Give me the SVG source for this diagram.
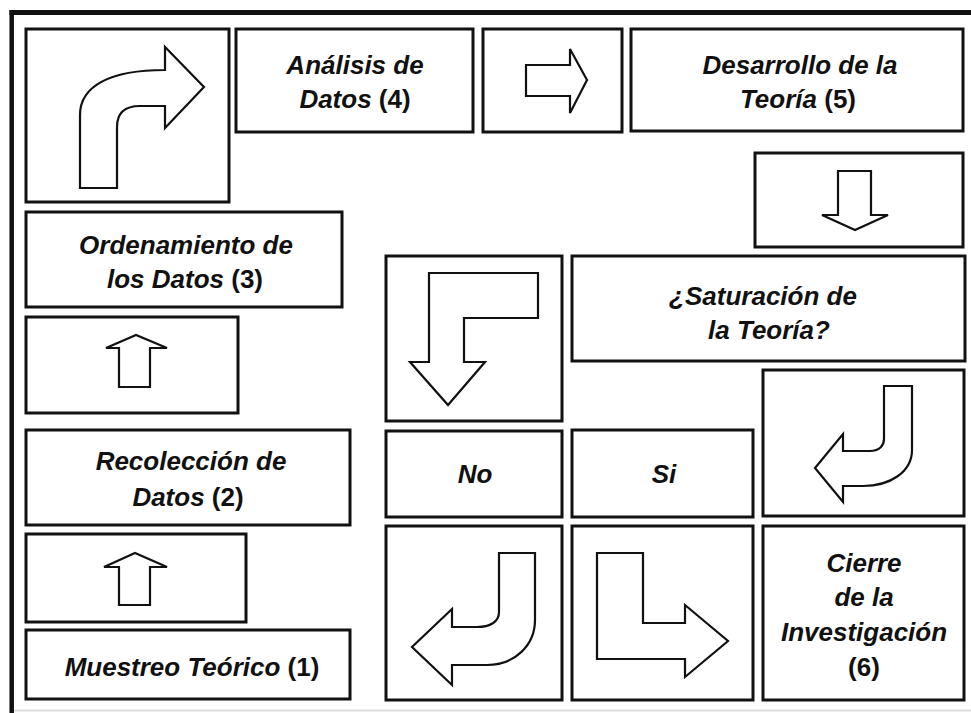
<svg xmlns="http://www.w3.org/2000/svg" width="971" height="713" viewBox="0 0 971 713">
<style>
.box{fill:#fff;stroke:#111;stroke-width:3}
.arr{fill:#fff;stroke:#111;stroke-width:2.2;stroke-linejoin:miter}
.t{font-family:"Liberation Sans",Arial,sans-serif;font-size:26px;font-weight:bold;font-style:italic;fill:#111;text-anchor:middle}
.n{font-style:normal}
</style>
<rect x="0" y="0" width="971" height="713" fill="#fff"/>
<g id="frame">
<line x1="9.5" y1="12.5" x2="971" y2="12.5" stroke="#111" stroke-width="5"/>
<line x1="11.7" y1="10" x2="11.7" y2="713" stroke="#111" stroke-width="4.5"/>
<line x1="14" y1="710.5" x2="971" y2="710.5" stroke="#ddd" stroke-width="2"/>
</g>
<g id="cell-curve-up-right"><rect class="box" x="26" y="29" width="203" height="173"/></g>
<g id="n4"><rect class="box" x="236" y="29" width="237" height="103"/>
<text class="t" x="355" y="74">Análisis de</text><text class="t" x="355" y="108">Datos <tspan class="n">(4)</tspan></text></g>
<g id="cell-right"><rect class="box" x="483" y="29" width="139" height="103"/></g>
<g id="n5"><rect class="box" x="631" y="29" width="332" height="102"/>
<text class="t" x="800" y="74">Desarrollo de la</text><text class="t" x="798" y="108">Teoría <tspan class="n">(5)</tspan></text></g>
<g id="cell-down"><rect class="box" x="755" y="153" width="208" height="94"/></g>
<g id="n3"><rect class="box" x="26" y="212" width="316" height="95"/>
<text class="t" x="186" y="254">Ordenamiento de</text><text class="t" x="185" y="288">los Datos <tspan class="n">(3)</tspan></text></g>
<g id="cell-up1"><rect class="box" x="26" y="317" width="212" height="96"/></g>
<g id="n2"><rect class="box" x="26" y="430" width="324" height="95"/>
<text class="t" x="191" y="470">Recolección de</text><text class="t" x="188" y="506">Datos <tspan class="n">(2)</tspan></text></g>
<g id="cell-up2"><rect class="box" x="26" y="534" width="220" height="88"/></g>
<g id="n1"><rect class="box" x="26" y="630" width="324" height="69"/>
<text class="t" x="192" y="676">Muestreo Teórico <tspan class="n">(1)</tspan></text></g>
<g id="cell-l-down"><rect class="box" x="386" y="256" width="176" height="165"/></g>
<g id="decision"><rect class="box" x="572" y="256" width="393" height="105"/>
<text class="t" x="763" y="305">¿Saturación de</text><text class="t" x="769" y="339">la Teoría?</text></g>
<g id="cell-curve-left"><rect class="box" x="763" y="370" width="201" height="146"/></g>
<g id="no"><rect class="box" x="386" y="431" width="176" height="86"/>
<text class="t" x="475" y="483">No</text></g>
<g id="si"><rect class="box" x="572" y="430" width="181" height="87"/>
<text class="t" x="664" y="483">Si</text></g>
<g id="cell-j-left"><rect class="box" x="386" y="526" width="176" height="174"/></g>
<g id="cell-l-right"><rect class="box" x="572" y="526" width="181" height="174"/></g>
<g id="n6"><rect class="box" x="763" y="526" width="201" height="174"/>
<text class="t" x="864" y="572">Cierre</text><text class="t" x="864" y="606">de la</text><text class="t" x="864" y="641">Investigación</text><text class="t n" x="864" y="676">(6)</text></g>
<g id="connectors">
<path class="arr" d="M80,188 L80,115 C80,86 110,70 165,70 L165,47 L204,87 L165,128 L165,106 L140,106 C125,106 117,113 117,127 L117,188 Z"/>
<path class="arr" d="M526,65 L570,65 L570,49 L587,80 L570,113 L570,96 L526,96 Z"/>
<path class="arr" d="M838,171 L871,171 L871,215 L888,215 L855,230 L822,215 L838,215 Z"/>
<path class="arr" d="M119,387 L119,348 L106,348 L136,335 L167,348 L150,348 L150,387 Z"/>
<path class="arr" d="M119,605 L119,567 L104,567 L135,553 L167,567 L150,567 L150,605 Z"/>
<path class="arr" d="M429,273 L538,273 L538,318 L464,318 L464,362 L485,362 L448,405 L410,362 L429,362 Z"/>
<path class="arr" d="M884,386 L912,386 L912,450 C912,472 890,486 863,486 L843,486 L843,502 L815,468 L843,434 L843,451 L870,451 C880,451 884,445 884,439 Z"/>
<path class="arr" d="M499,553 L535,553 L535,620 C535,645 515,665 487,665 L452,665 L452,685 L412,647 L452,609 L452,627 L477,627 C490,627 499,622 499,612 Z"/>
<path class="arr" d="M597,553 L643,553 L643,623 L685,623 L685,605 L728,641 L685,677 L685,659 L597,659 Z"/>
</g>
</svg>
